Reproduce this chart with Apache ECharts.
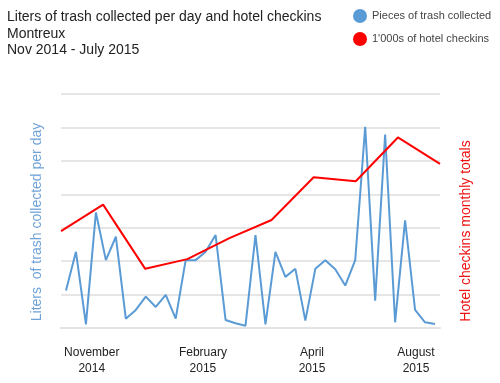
<!DOCTYPE html>
<html>
<head>
<meta charset="utf-8">
<script src="https://cdn.jsdelivr.net/npm/echarts@6/dist/echarts.min.js"></script>
<style>html,body{margin:0;padding:0;background:#fff}#c{width:500px;height:383px}</style>
</head>
<body>
<div id="c"></div>
<script>
// Daily trash samples (38 collection days), values in gridline units
var trashDays = [];
for (var d = 1; d <= 38; d++) trashDays.push(String(d));
var trashValues = [1.12, 2.28, 0.11, 3.46, 2.03, 2.73, 0.28, 0.54, 0.94, 0.63,
  0.99, 0.28, 2.03, 2.03, 2.28, 2.78, 0.24, 0.14, 0.07, 2.78,
  0.11, 2.28, 1.53, 1.77, 0.22, 1.77, 2.03, 1.76, 1.27, 2.03,
  6.02, 0.82, 5.79, 0.17, 3.22, 0.54, 0.17, 0.12];
// Monthly hotel checkins
var months = ['Nov', 'Dec', 'Jan', 'Feb', 'Mar', 'Apr', 'May', 'Jun', 'Jul', 'Aug'];
var checkinValues = [2.90, 3.69, 1.77, 2.06, 2.69, 3.23, 4.51, 4.39, 5.70, 4.91];
// X tick labels and their month positions
var tickLabels = ['November\n2014', 'February\n2015', 'April\n2015', 'August\n2015'];
var tickPositions = [0.73, 3.37, 5.96, 8.43];

var chart = echarts.init(document.getElementById('c'));
var font = 'Liberation Sans, Arial, sans-serif';
chart.setOption({
  animation: false,
  textStyle: { fontFamily: font },
  title: {
    text: 'Liters of trash collected per day and hotel checkins\nMontreux\nNov 2014 - July 2015',
    left: 2, top: 4,
    textStyle: { fontSize: 14, fontWeight: 'normal', color: '#222', lineHeight: 16.5, fontFamily: font }
  },
  legend: {
    orient: 'vertical', left: 348, top: 4, itemGap: 9,
    itemWidth: 14, itemHeight: 14, icon: 'circle',
    textStyle: { fontSize: 11, color: '#444', fontFamily: font },
    data: ['Pieces of trash collected', "1'000s of hotel checkins"]
  },
  grid: { left: 61, right: 60, top: 94, bottom: 55 },
  xAxis: [
    { type: 'category', data: trashDays, boundaryGap: true, show: false },
    {
      type: 'value', min: 0, max: months.length - 1, position: 'bottom',
      axisLine: { show: true, lineStyle: { color: '#e3e3e3', width: 2 } },
      axisTick: { show: false }, splitLine: { show: false },
      axisLabel: {
        customValues: tickPositions,
        formatter: function (v) {
          for (var i = 0; i < tickPositions.length; i++) if (Math.abs(tickPositions[i] - v) < 1e-6) return tickLabels[i];
          return '';
        },
        fontSize: 12, color: '#222', lineHeight: 16, margin: 17, fontFamily: font
      }
    }
  ],
  yAxis: [
    {
      type: 'value', min: 0, max: 7, interval: 1,
      axisLabel: { show: false }, axisTick: { show: false }, axisLine: { show: false },
      splitLine: { lineStyle: { color: '#e6e6e6', width: 2 } },
      name: 'Liters  of trash collected per day', nameLocation: 'middle', nameGap: 17,
      nameTextStyle: { color: '#6fa3d8', fontSize: 14, fontFamily: font, padding: [0, 22, 0, 0] }
    },
    {
      type: 'value', min: 0, max: 7, interval: 1, position: 'right',
      axisLabel: { show: false }, axisTick: { show: false }, axisLine: { show: false },
      splitLine: { show: false },
      name: 'Hotel checkins monthly totals', nameLocation: 'middle', nameGap: 19,
      nameTextStyle: { color: '#ee1111', fontSize: 14, fontFamily: font, padding: [0, 40, 0, 0] }
    }
  ],
  series: [
    {
      name: 'Pieces of trash collected', type: 'line', xAxisIndex: 0, yAxisIndex: 0,
      data: trashValues, showSymbol: false, symbol: 'circle',
      itemStyle: { color: '#5b9bd5' }, lineStyle: { color: '#5b9bd5', width: 2 }
    },
    {
      name: "1'000s of hotel checkins", type: 'line', xAxisIndex: 1, yAxisIndex: 1,
      data: checkinValues.map(function (v, i) { return [i, v]; }),
      showSymbol: false, symbol: 'circle',
      itemStyle: { color: '#ff0000' }, lineStyle: { color: '#ff0000', width: 2 }
    }
  ]
});
</script>
</body>
</html>
